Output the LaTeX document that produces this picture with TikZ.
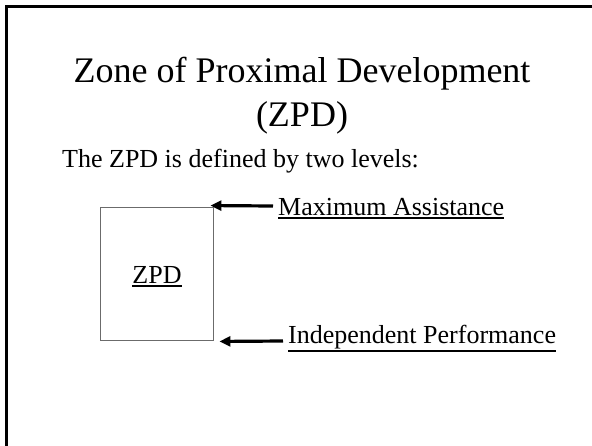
\documentclass[tikz,border=0pt]{standalone}
\usepackage{fontspec}
\setmainfont{Liberation Serif}
\usetikzlibrary{arrows.meta}
\newcommand\myul[1]{\vtop{\hbox{#1}\kern1.6pt\hrule height 2.2pt}}
\tikzset{
  titletext/.style={font=\fontsize{36}{43}\selectfont, inner sep=0pt, anchor=base},
  bodytext/.style={font=\fontsize{26}{31}\selectfont, inner sep=0pt, anchor=base west},
  zpdbox/.style={draw=black!58, line width=0.9pt, minimum width=113pt, minimum height=133pt, inner sep=0pt},
  pointer/.style={line width=3.2pt, -{Triangle[length=11pt,width=10pt]}},
  frameline/.style={line width=2.6pt, black}
}
\begin{document}
\begin{tikzpicture}[x=1pt,y=-1pt]
\useasboundingbox (0,0) rectangle (592,445);
\clip (0,0) rectangle (592,445);
\fill[white] (0,0) rectangle (592,445);
% slide frame (only top and left edges visible)
\draw[frameline] (6.5,600) -- (6.5,6.5) -- (700,6.5);
% title
\node[titletext] (title1) at (302,82) {Zone of Proximal Development};
\node[titletext] (title2) at (302,126) {(ZPD)};
% body line
\node[bodytext] (body) at (62,167) {The ZPD is defined by two levels:};
% ZPD box
\node[zpdbox] (box) at (156.5,273.5) {};
\node[bodytext, anchor=base] (zpdlabel) at (157,283) {\myul{ZPD}};
% labels
\node[bodytext] (maxl) at (278,215) {\myul{Maximum Assistance}};
\node[bodytext] (indl) at (288,343) {\myul{Independent Performance}};
% arrows
\draw[pointer] ([shift={(-5pt,9pt)}]maxl.base west) -- ([shift={(-3pt,1pt)}]box.north east);
\draw[pointer] ([shift={(-5pt,2pt)}]indl.base west) -- ([shift={(6pt,-1pt)}]box.south east);
\end{tikzpicture}
\end{document}
